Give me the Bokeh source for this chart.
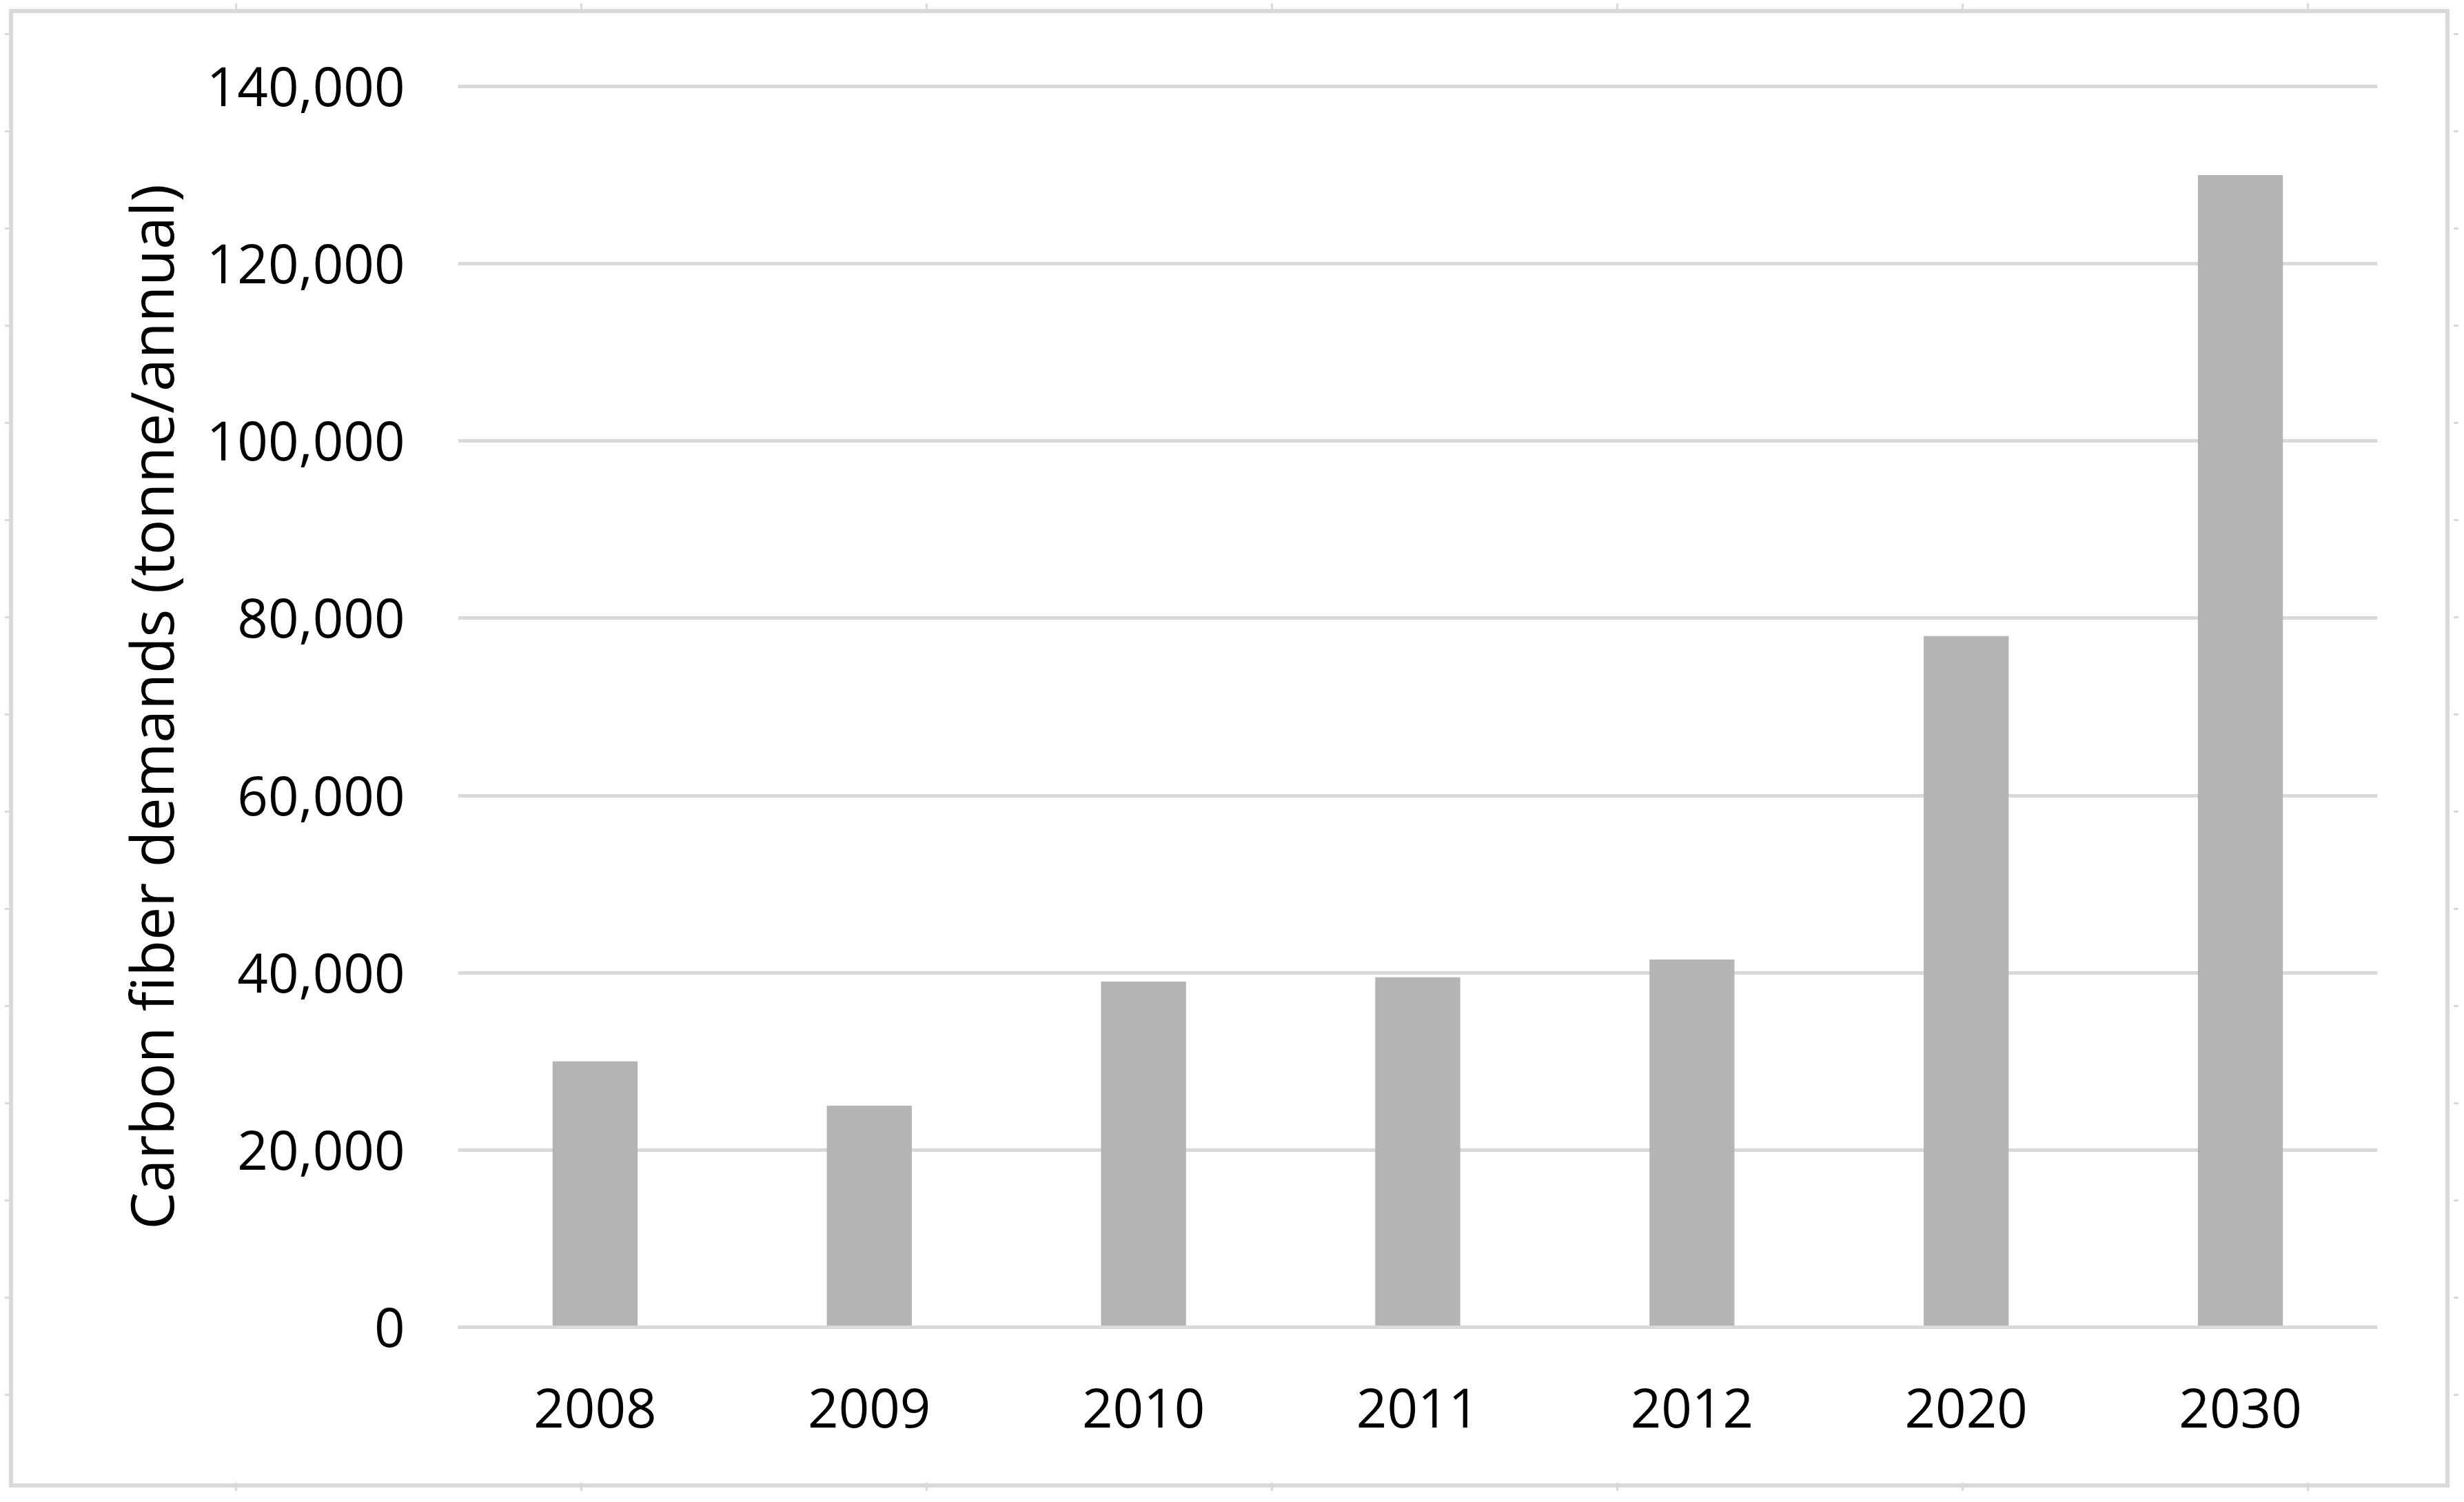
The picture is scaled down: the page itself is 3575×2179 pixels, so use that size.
from bokeh.plotting import figure
from bokeh.models import (FactorRange, Range1d, FixedTicker, NumeralTickFormatter,
                          CategoricalAxis, CategoricalTicker, ColumnDataSource)
from bokeh.embed import file_html
from bokeh.resources import INLINE

# ---- data ----
years = ["2008", "2009", "2010", "2011", "2012", "2020", "2030"]
demand = [30000, 25000, 39000, 39500, 41500, 78000, 130000]
y_ticks = [0, 20000, 40000, 60000, 80000, 100000, 120000, 140000]
y_label = "Carbon fiber demands (tonne/annual)"

FONT = "Open Sans"
GRID = "#d9d9d9"
BAR = "#b4b4b4"

W, H = 3567, 2171

src = ColumnDataSource(dict(years=years, demand=demand))

p = figure(x_range=FactorRange(*years), y_range=Range1d(0, 140000),
           width=W, height=H, output_backend="svg", toolbar_location=None,
           min_border_left=664, min_border_right=118,
           min_border_top=125, min_border_bottom=246)

p.vbar(x="years", top="demand", width=0.31, source=src,
       fill_color=BAR, line_color=None)

p.outline_line_color = None
p.background_fill_color = "white"
p.border_fill_color = None

p.xgrid.visible = False
p.ygrid.ticker = FixedTicker(ticks=y_ticks)
p.ygrid.grid_line_color = GRID
p.ygrid.grid_line_width = 5

p.yaxis.ticker = FixedTicker(ticks=y_ticks)
p.yaxis.formatter = NumeralTickFormatter(format="0,0")
for ax in (p.xaxis, p.yaxis):
    ax.major_tick_line_color = None
    ax.minor_tick_line_color = None
    ax.major_tick_out = 0
    ax.major_tick_in = 0
    ax.major_label_text_font = FONT
    ax.major_label_text_font_size = "78px"
    ax.major_label_text_color = "#000000"
p.yaxis.axis_line_color = None
p.xaxis.axis_line_color = GRID
p.xaxis.axis_line_width = 5
p.yaxis.major_label_standoff = 77
p.xaxis.major_label_standoff = 88

p.yaxis.axis_label = y_label
p.yaxis.axis_label_text_font = FONT
p.yaxis.axis_label_text_font_size = "86px"
p.yaxis.axis_label_text_font_style = "normal"
p.yaxis.axis_label_text_color = "#000000"
p.yaxis.axis_label_standoff = 20

# top gridline (140,000) drawn as a label-less axis line on the frame's top edge
top_axis = CategoricalAxis(ticker=CategoricalTicker(), axis_line_color=GRID,
                           axis_line_width=5, major_tick_line_color=None,
                           minor_tick_line_color=None, major_label_text_color=None,
                           major_label_text_font_size="1px")
p.add_layout(top_axis, "above")

# ---- decorative outer frame and its small edge ticks (CSS on the figure element) ----
tick = GRID
p.styles = {
    "outline": "6px solid " + GRID,
    "outline-offset": "-19px",
    "background-color": "white",
    "background-image": ", ".join([
        "repeating-linear-gradient(to right, transparent 0px, transparent 341px, "
        f"{tick} 341px, {tick} 344px, transparent 344px, transparent 501px)",
        "repeating-linear-gradient(to right, transparent 0px, transparent 341px, "
        f"{tick} 341px, {tick} 344px, transparent 344px, transparent 501px)",
        "repeating-linear-gradient(to bottom, transparent 0px, transparent 48px, "
        f"{tick} 48px, {tick} 51px, transparent 51px, transparent 141px)",
        "repeating-linear-gradient(to bottom, transparent 0px, transparent 48px, "
        f"{tick} 48px, {tick} 51px, transparent 51px, transparent 141px)",
    ]),
    "background-position": "0px 5px, 0px 2151px, 7px 0px, 3560px 0px",
    "background-size": "3567px 8px, 3567px 12px, 6px 2100px, 7px 2100px",
    "background-repeat": "no-repeat",
}

open("out.html", "w").write(file_html(p, INLINE))
